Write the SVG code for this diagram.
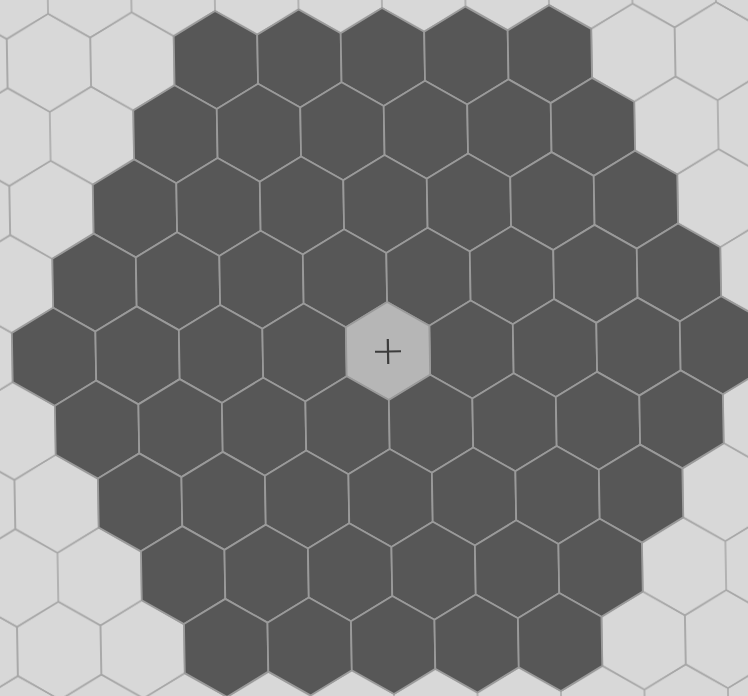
<svg xmlns="http://www.w3.org/2000/svg" xmlns:xlink="http://www.w3.org/1999/xlink" width="748" height="696" viewBox="0 0 748 696">
<style>
.d{fill:#575757;stroke:#9a9a9a;stroke-width:1.8}
.c{fill:#b6b6b6;stroke:#9a9a9a;stroke-width:1.8}
.bgl{fill:none;stroke:#a6a6a6;stroke-width:1.5}
.cross{fill:none;stroke:#3c3c3c;stroke-width:2.2}
</style>
<defs>
<polygon id="hx" points="0,-49 41.75,-24.5 41.75,24.5 0,49 -41.75,24.5 -41.75,-24.5"/>
<pattern id="bg" patternUnits="userSpaceOnUse" x="388" y="351" width="83.5" height="147">
<g class="bgl">
<use href="#hx" x="0" y="0"/>
<use href="#hx" x="83.5" y="0"/>
<use href="#hx" x="41.75" y="73.5"/>
<use href="#hx" x="0" y="147"/>
<use href="#hx" x="83.5" y="147"/>
</g>
</pattern>
</defs>
<rect width="748" height="696" fill="#d8d8d8"/>
<g transform="rotate(-1 388 351)">
<rect x="-120" y="-120" width="990" height="940" fill="url(#bg)"/>
<g id="row-4">
<use class="d" href="#hx" x="221" y="57"/>
<use class="d" href="#hx" x="304.5" y="57"/>
<use class="d" href="#hx" x="388" y="57"/>
<use class="d" href="#hx" x="471.5" y="57"/>
<use class="d" href="#hx" x="555" y="57"/>
</g>
<g id="row-3">
<use class="d" href="#hx" x="179.25" y="130.5"/>
<use class="d" href="#hx" x="262.75" y="130.5"/>
<use class="d" href="#hx" x="346.25" y="130.5"/>
<use class="d" href="#hx" x="429.75" y="130.5"/>
<use class="d" href="#hx" x="513.25" y="130.5"/>
<use class="d" href="#hx" x="596.75" y="130.5"/>
</g>
<g id="row-2">
<use class="d" href="#hx" x="137.5" y="204"/>
<use class="d" href="#hx" x="221" y="204"/>
<use class="d" href="#hx" x="304.5" y="204"/>
<use class="d" href="#hx" x="388" y="204"/>
<use class="d" href="#hx" x="471.5" y="204"/>
<use class="d" href="#hx" x="555" y="204"/>
<use class="d" href="#hx" x="638.5" y="204"/>
</g>
<g id="row-1">
<use class="d" href="#hx" x="95.75" y="277.5"/>
<use class="d" href="#hx" x="179.25" y="277.5"/>
<use class="d" href="#hx" x="262.75" y="277.5"/>
<use class="d" href="#hx" x="346.25" y="277.5"/>
<use class="d" href="#hx" x="429.75" y="277.5"/>
<use class="d" href="#hx" x="513.25" y="277.5"/>
<use class="d" href="#hx" x="596.75" y="277.5"/>
<use class="d" href="#hx" x="680.25" y="277.5"/>
</g>
<g id="row0">
<use class="d" href="#hx" x="54" y="351"/>
<use class="d" href="#hx" x="137.5" y="351"/>
<use class="d" href="#hx" x="221" y="351"/>
<use class="d" href="#hx" x="304.5" y="351"/>
<use class="d" href="#hx" x="471.5" y="351"/>
<use class="d" href="#hx" x="555" y="351"/>
<use class="d" href="#hx" x="638.5" y="351"/>
<use class="d" href="#hx" x="722" y="351"/>
</g>
<g id="center">
<use class="c" href="#hx" x="388" y="351"/>
<path class="cross" d="M375 351.5H401M388 339V364"/>
</g>
<g id="row1">
<use class="d" href="#hx" x="95.75" y="424.5"/>
<use class="d" href="#hx" x="179.25" y="424.5"/>
<use class="d" href="#hx" x="262.75" y="424.5"/>
<use class="d" href="#hx" x="346.25" y="424.5"/>
<use class="d" href="#hx" x="429.75" y="424.5"/>
<use class="d" href="#hx" x="513.25" y="424.5"/>
<use class="d" href="#hx" x="596.75" y="424.5"/>
<use class="d" href="#hx" x="680.25" y="424.5"/>
</g>
<g id="row2">
<use class="d" href="#hx" x="137.5" y="498"/>
<use class="d" href="#hx" x="221" y="498"/>
<use class="d" href="#hx" x="304.5" y="498"/>
<use class="d" href="#hx" x="388" y="498"/>
<use class="d" href="#hx" x="471.5" y="498"/>
<use class="d" href="#hx" x="555" y="498"/>
<use class="d" href="#hx" x="638.5" y="498"/>
</g>
<g id="row3">
<use class="d" href="#hx" x="179.25" y="571.5"/>
<use class="d" href="#hx" x="262.75" y="571.5"/>
<use class="d" href="#hx" x="346.25" y="571.5"/>
<use class="d" href="#hx" x="429.75" y="571.5"/>
<use class="d" href="#hx" x="513.25" y="571.5"/>
<use class="d" href="#hx" x="596.75" y="571.5"/>
</g>
<g id="row4">
<use class="d" href="#hx" x="221" y="645"/>
<use class="d" href="#hx" x="304.5" y="645"/>
<use class="d" href="#hx" x="388" y="645"/>
<use class="d" href="#hx" x="471.5" y="645"/>
<use class="d" href="#hx" x="555" y="645"/>
</g>
</g>
</svg>
